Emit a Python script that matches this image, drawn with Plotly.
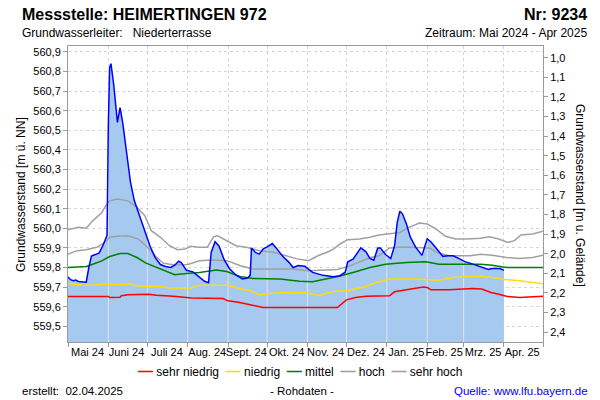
import numpy as np
import pandas as pd
import plotly.graph_objects as go

# ---------------- data ----------------
GELAENDE = 561.87  # Geländehöhe [m ü. NN]

pegel_datum = [
    "2024-05-01", "2024-05-03", "2024-05-05", "2024-05-07", "2024-05-09", "2024-05-12",
    "2024-05-15", "2024-05-17", "2024-05-19", "2024-05-22", "2024-05-25", "2024-05-28",
    "2024-05-30", "2024-05-31", "2024-06-01", "2024-06-02", "2024-06-03", "2024-06-05",
    "2024-06-08", "2024-06-10", "2024-06-12", "2024-06-15", "2024-06-18", "2024-06-21",
    "2024-06-24", "2024-06-29", "2024-07-03", "2024-07-07", "2024-07-11", "2024-07-15",
    "2024-07-19", "2024-07-22", "2024-07-25", "2024-07-27", "2024-07-31", "2024-08-05",
    "2024-08-10", "2024-08-14", "2024-08-17", "2024-08-19", "2024-08-22", "2024-08-25",
    "2024-08-29", "2024-09-02", "2024-09-07", "2024-09-12", "2024-09-16", "2024-09-18",
    "2024-09-19", "2024-09-22", "2024-09-25", "2024-09-28", "2024-10-01", "2024-10-05",
    "2024-10-08", "2024-10-13", "2024-10-18", "2024-10-21", "2024-10-25", "2024-10-30",
    "2024-11-05", "2024-11-13", "2024-11-21", "2024-11-26", "2024-11-30", "2024-12-02",
    "2024-12-06", "2024-12-10", "2024-12-12", "2024-12-16", "2024-12-19", "2024-12-22",
    "2024-12-25", "2024-12-27", "2024-12-31", "2025-01-04", "2025-01-07", "2025-01-09",
    "2025-01-11", "2025-01-13", "2025-01-16", "2025-01-19", "2025-01-23", "2025-01-28",
    "2025-01-30", "2025-02-01", "2025-02-04", "2025-02-08", "2025-02-13", "2025-02-17",
    "2025-02-21", "2025-02-26", "2025-03-02", "2025-03-07", "2025-03-14", "2025-03-20",
    "2025-03-23", "2025-03-29", "2025-04-01",
]
pegel_wert = [
    559.752, 559.738, 559.733, 559.736, 559.729, 559.726,
    559.725, 559.800, 559.858, 559.866, 559.875, 559.915,
    559.945, 559.965, 560.530, 560.820, 560.840, 560.740,
    560.540, 560.615, 560.540, 560.400, 560.235, 560.140,
    560.080, 559.990, 559.910, 559.850, 559.815, 559.805,
    559.800, 559.812, 559.832, 559.825, 559.786, 559.778,
    559.753, 559.730, 559.722, 559.877, 559.932, 559.910,
    559.840, 559.795, 559.762, 559.742, 559.746, 559.760,
    559.900, 559.877, 559.868, 559.895, 559.905, 559.922,
    559.900, 559.857, 559.825, 559.800, 559.810, 559.806,
    559.775, 559.760, 559.753, 559.758, 559.776, 559.829,
    559.842, 559.880, 559.900, 559.880, 559.846, 559.837,
    559.900, 559.900, 559.866, 559.846, 559.913, 560.030,
    560.087, 560.074, 560.023, 559.956, 559.905, 559.862,
    559.900, 559.947, 559.930, 559.900, 559.857, 559.860,
    559.860, 559.844, 559.830, 559.820, 559.803, 559.790,
    559.795, 559.795, 559.785,
]

sehr_niedrig_datum = [
    "2024-05-01", "2024-06-01", "2024-06-02", "2024-06-10", "2024-06-11", "2024-06-16",
    "2024-07-02", "2024-07-08", "2024-07-21", "2024-08-04", "2024-08-28", "2024-09-01",
    "2024-09-10", "2024-09-20", "2024-09-28", "2024-11-24", "2024-11-27", "2024-12-01",
    "2024-12-08", "2024-12-16", "2025-01-03", "2025-01-07", "2025-01-16", "2025-01-24",
    "2025-01-29", "2025-02-01", "2025-02-04", "2025-02-18", "2025-03-08", "2025-03-15",
    "2025-03-22", "2025-03-28", "2025-04-03", "2025-04-13", "2025-04-23", "2025-05-01",
]
sehr_niedrig_wert = [
    559.652, 559.652, 559.647, 559.648, 559.656, 559.661,
    559.664, 559.659, 559.653, 559.644, 559.642, 559.630,
    559.622, 559.608, 559.596, 559.596, 559.613, 559.635,
    559.647, 559.653, 559.656, 559.676, 559.686, 559.693,
    559.700, 559.698, 559.686, 559.686, 559.693, 559.690,
    559.673, 559.664, 559.653, 559.647, 559.650, 559.653,
]

niedrig_datum = [
    "2024-05-01", "2024-05-13", "2024-05-20", "2024-05-26", "2024-06-15", "2024-06-17",
    "2024-06-21", "2024-06-30", "2024-07-11", "2024-07-18", "2024-08-03", "2024-08-09",
    "2024-08-10", "2024-08-31", "2024-09-07", "2024-09-18", "2024-09-25", "2024-10-03",
    "2024-10-16", "2024-11-02", "2024-11-05", "2024-11-11", "2024-11-16", "2024-11-21",
    "2024-12-01", "2024-12-08", "2024-12-16", "2024-12-24", "2025-01-03", "2025-01-24",
    "2025-02-10", "2025-02-21", "2025-03-14", "2025-03-23", "2025-04-01", "2025-04-13",
    "2025-04-21", "2025-05-01",
]
niedrig_wert = [
    559.719, 559.710, 559.710, 559.715, 559.715, 559.719,
    559.710, 559.703, 559.703, 559.695, 559.695, 559.707,
    559.710, 559.710, 559.698, 559.681, 559.661, 559.668,
    559.673, 559.670, 559.664, 559.656, 559.670, 559.678,
    559.681, 559.690, 559.703, 559.724, 559.741, 559.741,
    559.735, 559.749, 559.757, 559.749, 559.739, 559.732,
    559.724, 559.717,
]

mittel_datum = [
    "2024-05-01", "2024-05-15", "2024-05-20", "2024-05-27", "2024-06-02", "2024-06-10",
    "2024-06-16", "2024-06-23", "2024-06-30", "2024-07-11", "2024-07-22", "2024-07-31",
    "2024-08-10", "2024-08-23", "2024-08-31", "2024-09-10", "2024-09-20", "2024-10-11",
    "2024-10-26", "2024-11-05", "2024-11-16", "2024-11-26", "2024-12-06", "2024-12-19",
    "2024-12-31", "2025-01-16", "2025-01-31", "2025-02-10", "2025-03-03", "2025-03-14",
    "2025-03-23", "2025-04-03", "2025-05-01",
]
mittel_wert = [
    559.800, 559.805, 559.817, 559.834, 559.856, 559.871,
    559.871, 559.851, 559.822, 559.792, 559.763, 559.770,
    559.775, 559.787, 559.780, 559.754, 559.744, 559.741,
    559.730, 559.727, 559.741, 559.757, 559.775, 559.800,
    559.817, 559.826, 559.829, 559.817, 559.817, 559.817,
    559.812, 559.800, 559.800,
]

hoch_datum = [
    "2024-05-01", "2024-05-08", "2024-05-15", "2024-05-23", "2024-05-29", "2024-06-02",
    "2024-06-08", "2024-06-16", "2024-06-24", "2024-06-30", "2024-07-07", "2024-07-13",
    "2024-07-21", "2024-08-01", "2024-08-10", "2024-08-20", "2024-08-31", "2024-09-10",
    "2024-09-20", "2024-10-21", "2024-11-02", "2024-11-24", "2024-12-03", "2024-12-19",
    "2024-12-26", "2025-01-03", "2025-01-13", "2025-01-26", "2025-02-03", "2025-02-08",
    "2025-02-18", "2025-03-06", "2025-03-14", "2025-03-23", "2025-04-03", "2025-04-13",
    "2025-04-23", "2025-05-01",
]
hoch_wert = [
    559.869, 559.886, 559.891, 559.903, 559.925, 559.954,
    559.959, 559.962, 559.945, 559.911, 559.860, 559.823,
    559.813, 559.815, 559.834, 559.838, 559.835, 559.810,
    559.793, 559.793, 559.784, 559.790, 559.807, 559.850,
    559.860, 559.900, 559.905, 559.903, 559.900, 559.877,
    559.860, 559.860, 559.868, 559.863, 559.851, 559.846,
    559.851, 559.863,
]

sehr_hoch_datum = [
    "2024-05-01", "2024-05-09", "2024-05-15", "2024-05-20", "2024-05-27", "2024-05-30",
    "2024-06-02", "2024-06-08", "2024-06-16", "2024-06-23", "2024-06-29", "2024-07-04",
    "2024-07-11", "2024-07-18", "2024-07-24", "2024-07-30", "2024-08-03", "2024-08-10",
    "2024-08-16", "2024-08-21", "2024-08-24", "2024-08-31", "2024-09-07", "2024-09-15",
    "2024-09-25", "2024-10-06", "2024-10-16", "2024-10-24", "2024-11-02", "2024-11-09",
    "2024-11-16", "2024-11-21", "2024-11-26", "2024-12-02", "2024-12-11", "2024-12-19",
    "2024-12-26", "2025-01-03", "2025-01-11", "2025-01-18", "2025-01-26", "2025-02-01",
    "2025-02-08", "2025-02-15", "2025-02-23", "2025-03-03", "2025-03-14", "2025-03-21",
    "2025-03-28", "2025-04-04", "2025-04-09", "2025-04-14", "2025-04-23", "2025-05-01",
]
sehr_hoch_wert = [
    559.993, 560.005, 560.000, 560.038, 560.080, 560.115,
    560.140, 560.149, 560.140, 560.107, 560.064, 559.988,
    559.954, 559.911, 559.891, 559.894, 559.908, 559.903,
    559.903, 559.957, 559.962, 559.937, 559.911, 559.903,
    559.886, 559.878, 559.860, 559.844, 559.835, 559.860,
    559.878, 559.894, 559.920, 559.942, 559.945, 559.954,
    559.966, 559.971, 559.979, 560.005, 560.027, 560.022,
    559.996, 559.959, 559.945, 559.945, 559.949, 559.957,
    559.945, 559.928, 559.937, 559.966, 559.971, 559.985,
]

monatsanfang = [
    "2024-05-01", "2024-06-01", "2024-07-01", "2024-08-01", "2024-09-01", "2024-10-01",
    "2024-11-01", "2024-12-01", "2025-01-01", "2025-02-01", "2025-03-01", "2025-04-01",
    "2025-05-01",
]
monat_mitte = [
    "2024-05-16", "2024-06-15", "2024-07-16", "2024-08-16", "2024-09-15", "2024-10-16",
    "2024-11-15", "2024-12-16", "2025-01-16", "2025-02-14", "2025-03-16", "2025-04-15",
]
monat_labels = [
    "Mai 24", "Juni 24", "Juli 24", "Aug. 24", "Sept. 24", "Okt. 24",
    "Nov. 24", "Dez. 24", "Jan. 25", "Feb. 25", "Mrz. 25", "Apr. 25",
]

ticks_nn = [559.5, 559.6, 559.7, 559.8, 559.9, 560.0, 560.1, 560.2,
            560.3, 560.4, 560.5, 560.6, 560.7, 560.8, 560.9]
ticks_gelaende = [1.0, 1.1, 1.2, 1.3, 1.4, 1.5, 1.6, 1.7,
                  1.8, 1.9, 2.0, 2.1, 2.2, 2.3, 2.4]

Y_RANGE = [559.42, 560.93]
X_RANGE = ["2024-05-01", "2025-05-01"]

legende = [
    ("sehr niedrig", "#ff0000"),
    ("niedrig", "#ffdd00"),
    ("mittel", "#008000"),
    ("hoch", "#a0a0a0"),
    ("sehr hoch", "#a0a0a0"),
]

# ---------------- figure ----------------
FONT = "Liberation Sans, Arial, sans-serif"
AXIS_COL = "#9a9a9a"
GRID_COL = "#d6d6d6"
FILL_COL = "#a6c9ef"

fig = go.Figure()

# filled area of measured level
fig.add_trace(go.Scatter(
    x=pegel_datum, y=pegel_wert, mode="lines", fill="tozeroy",
    fillcolor=FILL_COL, line=dict(width=0, color=FILL_COL),
    showlegend=False, hoverinfo="skip"))

# light month separators inside the filled area
t_num = pd.to_datetime(pd.Series(pegel_datum)).astype("int64").to_numpy()
sep_x, sep_y = [], []
for m in monatsanfang[1:-2]:
    tm = pd.Timestamp(m).value
    top = float(np.interp(tm, t_num, pegel_wert))
    sep_x += [m, m, None]
    sep_y += [Y_RANGE[0], top, None]
fig.add_trace(go.Scatter(
    x=sep_x, y=sep_y, mode="lines", line=dict(color="#dde3ea", width=1),
    showlegend=False, hoverinfo="skip"))

# reference lines
refs = [
    (sehr_niedrig_datum, sehr_niedrig_wert, legende[0]),
    (niedrig_datum, niedrig_wert, legende[1]),
    (mittel_datum, mittel_wert, legende[2]),
    (hoch_datum, hoch_wert, legende[3]),
    (sehr_hoch_datum, sehr_hoch_wert, legende[4]),
]
for xd, yd, (name, col) in refs:
    fig.add_trace(go.Scatter(
        x=xd, y=yd, mode="lines", name=name,
        line=dict(color=col, width=1.5, shape="linear"),
        showlegend=False, hoverinfo="skip"))

# measured level line
fig.add_trace(go.Scatter(
    x=pegel_datum, y=pegel_wert, mode="lines", line=dict(color="#0000ff", width=1.5),
    showlegend=False, name="Grundwasserstand"))

# invisible trace on the depth axis
fig.add_trace(go.Scatter(
    x=pegel_datum, y=[GELAENDE - v for v in pegel_wert], yaxis="y2",
    mode="lines", line=dict(color="rgba(0,0,0,0)", width=0),
    showlegend=False, hoverinfo="skip"))

PL, PR, PT, PB = 68, 543, 46, 342


def px(xp, yp):
    return (xp - PL) / (PR - PL), (PB - yp) / (PB - PT)


annotations = []


def ann(text, xp, yp, size, xanchor="left", color="#000000", angle=0, bold=False):
    x, y = px(xp, yp)
    if bold:
        text = "<b>" + text + "</b>"
    annotations.append(dict(
        text=text, x=x, y=y, xref="paper", yref="paper", xanchor=xanchor,
        yanchor="middle", showarrow=False, textangle=angle,
        font=dict(family=FONT, size=size, color=color)))


NB = "\u00a0"
ann("Messstelle: HEIMERTINGEN 972", 20, 14, 16, bold=True)
ann("Nr: 9234", 589, 14, 16, xanchor="right", bold=True)
ann("Grundwasserleiter:" + NB * 3 + "Niederterrasse", 20, 33, 12)
ann("Zeitraum: Mai 2024 - Apr 2025", 589, 33, 12, xanchor="right")
ann("Grundwasserstand [m ü. NN]", 21, 195, 12, xanchor="center", angle=-90)
ann("Grundwasserstand [m u. Gelände]", 580, 195, 12, xanchor="center", angle=90)
ann("erstellt:" + NB * 2 + "02.04.2025", 20, 391, 11.5)
ann("- Rohdaten -", 302, 391, 11.5, xanchor="center")
ann("Quelle: www.lfu.bayern.de", 590, 391, 11.5, xanchor="right", color="#0000ff")

# legend as a single centred line of text
parts = []
for name, col in legende:
    parts.append(f"<span style='color:{col};font-size:15px'><b>—</b></span>{NB}{name}")
ann((NB * 2).join(parts), 300, 370, 12, xanchor="center")

fig.update_layout(
    width=600, height=400,
    margin=dict(l=PL, r=600 - PR, t=PT, b=400 - PB, pad=0),
    paper_bgcolor="white", plot_bgcolor="white",
    separators=",.",
    showlegend=False,
    font=dict(family=FONT, size=11, color="#000000"),
    annotations=annotations,
    xaxis=dict(
        type="date", range=X_RANGE,
        tickmode="array", tickvals=monat_mitte, ticktext=monat_labels,
        tickangle=0,
        ticks="", showgrid=False, zeroline=False,
        showline=True, linecolor=AXIS_COL, linewidth=1, mirror=True,
        tickfont=dict(size=11, family=FONT),
        minor=dict(tickmode="array", tickvals=monatsanfang, ticks="outside",
                   ticklen=4, tickcolor=AXIS_COL, showgrid=True,
                   gridcolor=GRID_COL, griddash="dot", gridwidth=1),
    ),
    yaxis=dict(
        range=Y_RANGE, tickmode="array", tickvals=ticks_nn, tickformat=".1f",
        ticks="outside", ticklen=4, tickcolor=AXIS_COL,
        showline=True, linecolor=AXIS_COL, linewidth=1,
        showgrid=True, gridcolor=GRID_COL, griddash="dot", gridwidth=1,
        zeroline=False, tickfont=dict(size=11, family=FONT),
    ),
    yaxis2=dict(
        overlaying="y", side="right",
        range=[GELAENDE - Y_RANGE[0], GELAENDE - Y_RANGE[1]],
        tickmode="array", tickvals=ticks_gelaende, tickformat=".1f",
        ticks="outside", ticklen=4, tickcolor=AXIS_COL,
        showline=True, linecolor=AXIS_COL, linewidth=1,
        showgrid=False, zeroline=False, tickfont=dict(size=11, family=FONT),
    ),
)

fig.write_html(
    "out.html",
    config={"displayModeBar": False, "staticPlot": True},
    post_script="document.body.style.margin='0';document.body.style.overflow='hidden';",
)
